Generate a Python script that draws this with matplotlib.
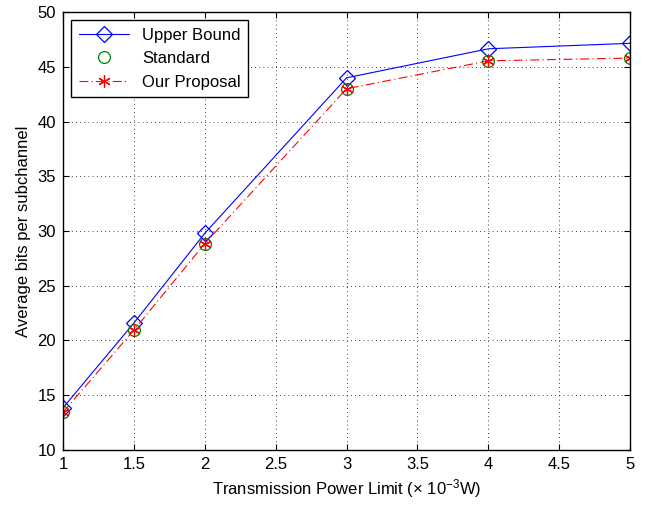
import matplotlib
matplotlib.use("Agg")
import matplotlib.pyplot as plt

plt.rcParams['font.family'] = ['Liberation Sans', 'DejaVu Sans']
plt.rcParams['mathtext.fontset'] = 'custom'
plt.rcParams['mathtext.rm'] = 'Liberation Sans'
plt.rcParams['mathtext.it'] = 'Liberation Sans'

power = [1, 1.5, 2, 3, 4, 5]
upper_bound = [13.85, 21.6, 29.8, 44.0, 46.65, 47.15]
standard = [13.45, 20.95, 28.85, 43.0, 45.55, 45.8]
proposal = [13.45, 20.95, 28.85, 43.0, 45.55, 45.8]

xticks = [1, 1.5, 2, 2.5, 3, 3.5, 4, 4.5, 5]
yticks = [10, 15, 20, 25, 30, 35, 40, 45, 50]

fig = plt.figure(figsize=(6.53, 5.05), dpi=100)
ax = fig.add_axes([0.0965, 0.109, 0.8685, 0.867])

ax.plot(power, upper_bound, color='blue', linestyle='-', linewidth=0.8,
        marker='D', markersize=8.5, markerfacecolor='none', markeredgecolor='blue',
        markeredgewidth=0.9, label='Upper Bound')
ax.plot(power, standard, color='green', linestyle='none',
        marker='o', markersize=8.5, markerfacecolor='none', markeredgecolor='green',
        markeredgewidth=0.9, label='Standard')
ax.plot(power, proposal, color='red', linestyle=(0, (8, 3, 1, 3)), linewidth=0.8,
        marker=(6, 2, 0), markersize=9, markeredgecolor='red',
        markeredgewidth=0.9, label='Our Proposal')

ax.set_xlim(1, 5)
ax.set_ylim(10, 50)
ax.set_xticks(xticks)
ax.set_xticklabels([f"{t:g}" for t in xticks])
ax.set_yticks(yticks)
ax.grid(True, color='black', linestyle=(0, (1, 4)), linewidth=0.6)
ax.tick_params(direction='in', top=True, right=True, labelsize=12, length=4, pad=5)
for s in ax.spines.values():
    s.set_linewidth(1.0)

ax.set_xlabel('Transmission Power Limit (× 10$^{-3}$W)', fontsize=12, labelpad=4)
ax.set_ylabel('Average bits per subchannel', fontsize=12, labelpad=5)

leg = ax.legend(loc='upper left', fontsize=12, fancybox=False, framealpha=1,
                edgecolor='black', borderpad=0.45, labelspacing=0.5,
                handlelength=3.0, borderaxespad=0.5)
leg.get_frame().set_linewidth(1.0)

fig.savefig('out.png', dpi=100)
